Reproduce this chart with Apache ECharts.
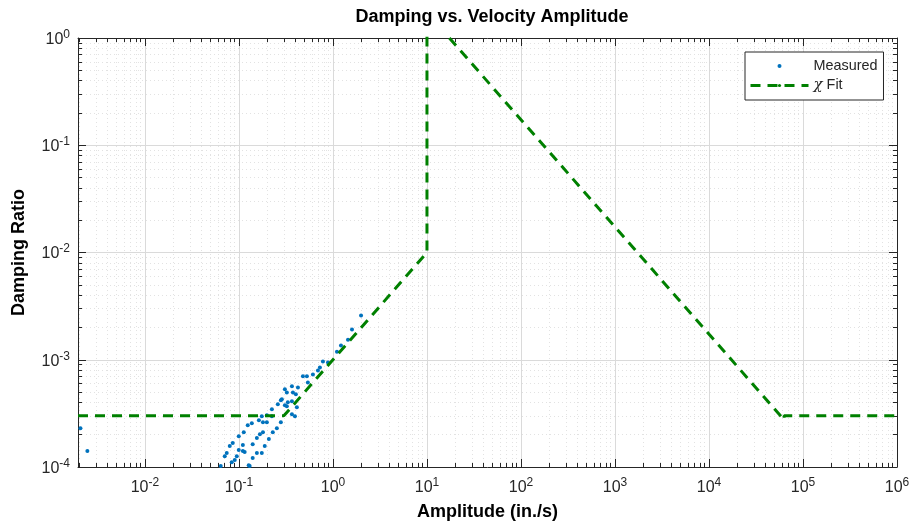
<!doctype html>
<html>
<head>
<meta charset="utf-8">
<title>Damping vs. Velocity Amplitude</title>
<script src="https://cdn.jsdelivr.net/npm/echarts@6/dist/echarts.min.js"></script>
</head>
<body style="margin:0">
<div id="container" style="width:910px;height:526px"></div>
<script>
// measured points: amplitude (in./s) and damping ratio
var measAmp = [0.00206, 0.00244,
  0.0640, 0.0706, 0.0741, 0.0798, 0.0859, 0.0902, 0.0838, 0.0948, 0.0995, 0.110,
  0.110, 0.115, 0.0995, 0.1125, 0.124, 0.137, 0.127, 0.130, 0.140, 0.155,
  0.140, 0.155, 0.167, 0.180, 0.163, 0.180, 0.198, 0.175, 0.188, 0.208,
  0.229, 0.224, 0.253, 0.279, 0.286, 0.308, 0.331, 0.323, 0.198, 0.175,
  0.224, 0.259, 0.279, 0.366, 0.323, 0.413, 0.366, 0.394, 0.308, 0.366,
  0.375, 0.403, 0.424, 0.479, 0.528, 0.541, 0.612, 0.692, 0.782, 0.885,
  0.726, 1.103, 1.217, 1.445, 1.594, 1.989];
var measDamp = [2.30e-4, 1.41e-4,
  1.02e-4, 1.26e-4, 1.35e-4, 1.57e-4, 1.67e-4, 1.16e-4, 1.11e-4, 1.26e-4, 1.44e-4, 1.41e-4,
  1.60e-4, 1.38e-4, 1.94e-4, 2.11e-4, 2.45e-4, 2.56e-4, 1.04e-4, 1.02e-4, 1.21e-4, 1.35e-4,
  1.63e-4, 1.86e-4, 2.02e-4, 2.11e-4, 2.73e-4, 2.62e-4, 2.62e-4, 1.35e-4, 1.57e-4, 1.82e-4,
  2.11e-4, 2.97e-4, 2.30e-4, 2.62e-4, 4.28e-4, 3.76e-4, 4.01e-4, 4.96e-4, 3.04e-4, 2.97e-4,
  3.45e-4, 3.85e-4, 4.19e-4, 4.10e-4, 3.68e-4, 3.60e-4, 3.10e-4, 2.97e-4, 5.30e-4, 5.65e-4,
  4.96e-4, 4.76e-4, 5.52e-4, 7.00e-4, 7.00e-4, 6.15e-4, 7.30e-4, 7.95e-4, 9.63e-4, 9.42e-4,
  8.47e-4, 1.19e-3, 1.36e-3, 1.54e-3, 1.91e-3, 2.58e-3];

// fitted curve corners
var fitAmp  = [0.00194, 0.3, 10, 10, 63000, 63000, 1e6];
var fitDamp = [3e-4, 3e-4, 1e-2, 1.73, 2.75e-4, 3e-4, 3e-4];

var xRange = [0.00194, 1e6];
var yRange = [1e-4, 1];
var xDecades = [-2, -1, 0, 1, 2, 3, 4, 5, 6];
var yDecades = [-4, -3, -2, -1, 0];

var FONT = '"Liberation Sans", Arial, Helvetica, sans-serif';
var INK = '#262626';

function lg(v) { return Math.log10(v); }
var xLo = lg(xRange[0]), xHi = lg(xRange[1]);
var yLo = lg(yRange[0]), yHi = lg(yRange[1]);

function minorList(lo, hi) {
  var out = [];
  for (var d = Math.floor(lo); d < Math.ceil(hi); d++) {
    for (var k = 2; k <= 9; k++) {
      var v = d + Math.log10(k);
      if (v > lo && v < hi) out.push(v);
    }
  }
  return out;
}
var xMinor = minorList(xLo, xHi);
var yMinor = minorList(yLo, yHi);

function powLabel(v) { return '{b|10}{s|' + Math.round(v) + '}'; }
var labelRich = {
  b: { fontSize: 16, color: INK, fontFamily: FONT, verticalAlign: 'bottom' },
  s: { fontSize: 12, color: INK, fontFamily: FONT, verticalAlign: 'top', padding: [0, 0, 7, 0] }
};

function makeAxis(pos, lo, hi, vals, major, extra) {
  var a = {
    type: 'value', position: pos, min: lo, max: hi,
    axisLine: { show: major, onZero: false, lineStyle: { color: INK, width: 1 } },
    axisTick: { show: true, inside: true, length: major ? 8 : 4, customValues: vals, lineStyle: { color: INK, width: 1 } },
    axisLabel: { show: false },
    splitLine: { show: false },
    silent: true
  };
  return Object.assign(a, extra || {});
}

var majorGrid = { show: true, lineStyle: { color: '#dadada', width: 1 } };
var minorGrid = { show: true, lineStyle: { color: '#e2e2e2', width: 1, type: [1, 3] } };
var nameStyle = { fontSize: 18, fontWeight: 'bold', color: '#000', fontFamily: FONT };

var measData = measAmp.map(function (a, i) { return [lg(a), lg(measDamp[i])]; });
var fitData = fitAmp.map(function (a, i) { return [lg(a), lg(fitDamp[i])]; });

var myChart = echarts.init(document.getElementById('container'));
var option = {
  animation: false,
  backgroundColor: '#fff',
  title: {
    text: 'Damping vs. Velocity Amplitude',
    left: 487, top: 3, textAlign: 'center',
    textStyle: { fontSize: 18, fontWeight: 'bold', color: '#000', fontFamily: FONT }
  },
  grid: { left: 78, right: 13, top: 38, bottom: 59, outerBoundsMode: 'none' },
  legend: {
    orient: 'vertical', left: 745, top: 52,
    backgroundColor: '#fff', borderColor: INK, borderWidth: 1,
    padding: [7, 6, 7, 4], itemGap: 5, itemWidth: 58, itemHeight: 4,
    lineStyle: { width: 'inherit', type: 'inherit' },
    textStyle: {
      fontSize: 14.4, color: INK, fontFamily: FONT,
      rich: { c: { fontSize: 15, fontStyle: 'italic', fontFamily: '"DejaVu Serif", serif', color: INK } }
    },
    formatter: function (name) { return name === 'χ Fit' ? '{c|χ} Fit' : name; },
    data: ['Measured', 'χ Fit']
  },
  xAxis: [
    makeAxis('bottom', xLo, xHi, xDecades, true, {
      axisLabel: { show: true, customValues: xDecades, formatter: powLabel, rich: labelRich, margin: 10 },
      splitLine: majorGrid,
      name: 'Amplitude (in./s)', nameLocation: 'middle', nameGap: 36, nameTextStyle: nameStyle
    }),
    makeAxis('bottom', xLo, xHi, xMinor, false, { splitLine: minorGrid }),
    makeAxis('top', xLo, xHi, xDecades, true),
    makeAxis('top', xLo, xHi, xMinor, false)
  ],
  yAxis: [
    makeAxis('left', yLo, yHi, yDecades, true, {
      axisLabel: { show: true, customValues: yDecades, formatter: powLabel, rich: labelRich, margin: 8 },
      splitLine: majorGrid,
      name: 'Damping Ratio', nameLocation: 'middle', nameGap: 50, nameTextStyle: nameStyle
    }),
    makeAxis('left', yLo, yHi, yMinor, false, { splitLine: minorGrid }),
    makeAxis('right', yLo, yHi, yDecades, true),
    makeAxis('right', yLo, yHi, yMinor, false)
  ],
  series: [
    {
      name: 'Measured', type: 'scatter', xAxisIndex: 0, yAxisIndex: 0,
      symbol: 'circle', symbolSize: 4,
      itemStyle: { color: '#0072BD', opacity: 1 },
      data: measData
    },
    {
      name: 'χ Fit', type: 'line', xAxisIndex: 0, yAxisIndex: 0,
      symbol: 'none', clip: true,
      lineStyle: { color: '#008000', width: 3, type: [10, 7] },
      itemStyle: { color: '#008000' },
      data: fitData
    }
  ]
};
myChart.setOption(option);
</script>
</body>
</html>
